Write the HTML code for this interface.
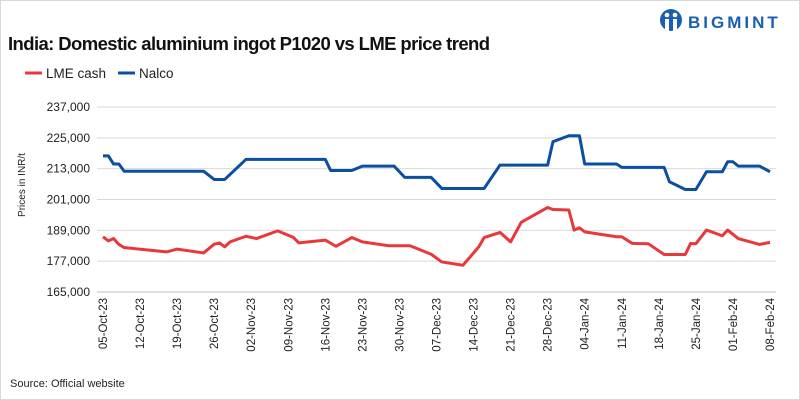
<!DOCTYPE html>
<html><head><meta charset="utf-8"><style>
body{margin:0;background:#fff}
svg{display:block;font-family:"Liberation Sans",sans-serif}
</style></head><body>
<svg width="800" height="400">
<rect x="0.5" y="0.5" width="799" height="399" fill="#fff" stroke="#d9d9d9"/>
<text x="8" y="50" font-size="18.5" font-weight="bold" fill="#111" letter-spacing="-0.6">India: Domestic aluminium ingot P1020 vs LME price trend</text>
<g>
<circle cx="671" cy="20" r="11" fill="#1a5fb4"/>
<circle cx="667" cy="15" r="2.3" fill="#fff"/><circle cx="675" cy="15" r="2.3" fill="#fff"/>
<rect x="665" y="19" width="4" height="12" fill="#fff"/><rect x="673" y="19" width="4" height="12" fill="#fff"/>
<text x="688" y="28" font-size="17" font-weight="bold" fill="#1a5fb4" letter-spacing="3">BIGMINT</text>
</g>
<g>
<line x1="25" y1="73" x2="42" y2="73" stroke="#e8383b" stroke-width="3"/>
<text x="46" y="78" font-size="13.5" fill="#222">LME cash</text>
<line x1="118" y1="73" x2="135" y2="73" stroke="#0a4fa0" stroke-width="3"/>
<text x="139" y="78" font-size="13.5" fill="#222">Nalco</text>
</g>
<text transform="translate(25,185) rotate(-90)" text-anchor="middle" font-size="10" fill="#222">Prices in INR/t</text>
<g id="grid"></g><g id="yt"></g><g id="xt"></g><g id="lines"></g>
<text x="10" y="387" font-size="11" fill="#222">Source: Official website</text>
</svg>
<script>
const yTicks=[165000,177000,189000,201000,213000,225000,237000];
const xTickLabels=["05-Oct-23","12-Oct-23","19-Oct-23","26-Oct-23","02-Nov-23","09-Nov-23","16-Nov-23","23-Nov-23","30-Nov-23","07-Dec-23","14-Dec-23","21-Dec-23","28-Dec-23","04-Jan-24","11-Jan-24","18-Jan-24","25-Jan-24","01-Feb-24","08-Feb-24"];
const nalcoDays=[0,1,2,3,4,19,21,23,27,42,43,47,49,55,57,62,64,72,75,84,85,88,90,91,97,98,106,107,110,112,114,117,118,119,120,124,126];
const nalcoVals=[218000,218000,214800,214800,212000,212000,208800,208800,216600,216600,212300,212300,214000,214000,209600,209600,205300,205300,214400,214400,223500,225800,225800,214800,214800,213500,213500,207900,204900,204900,211800,211800,215700,215700,214000,214000,211800];
const lmeDays=[0,1,2,3,4,12,14,19,21,22,23,24,27,29,33,36,37,42,44,47,49,54,58,62,64,68,71,72,75,77,79,84,85,88,89,90,91,97,98,100,103,106,110,111,112,114,117,118,120,124,126];
const lmeVals=[186500,184900,185800,183500,182300,180600,181700,180200,183600,184100,182600,184500,186700,185800,188800,186200,184100,185200,182800,186200,184500,183000,183000,179700,176700,175400,182600,186200,188200,184500,192100,197900,197100,196900,189100,190000,188400,186500,186500,183900,183800,179600,179600,183900,183800,189100,186900,189100,185800,183500,184300];
const NS="http://www.w3.org/2000/svg";
const X=d=>103+d*(667/126), Y=v=>292-(v-165000)*(185/72000);
function mk(t,a,p){const e=document.createElementNS(NS,t);for(const k in a)e.setAttribute(k,a[k]);document.getElementById(p).appendChild(e);return e;}
yTicks.forEach(v=>{
 const g=mk('line',{x1:97,x2:776,y1:Y(v),y2:Y(v),stroke:v==165000?'#bfbfbf':'#d9d9d9','stroke-width':1},'grid');
 
 
 const t=mk('text',{x:90,y:Y(v)+4,'text-anchor':'end','font-size':12,fill:'#222'},'yt');
 t.textContent=v.toLocaleString('en-US');
 
 
});
xTickLabels.forEach((l,i)=>{
 const x=X(i*7);
 const t=mk('text',{transform:`translate(${x+4},298) rotate(-90)`,'text-anchor':'end','font-size':11.5,fill:'#222'},'xt');
 t.textContent=l;
 
 
});
function line(days,vals,col,name){
 const p=mk('polyline',{points:days.map((d,i)=>X(d)+','+Y(vals[i])).join(' '),fill:'none',stroke:col,'stroke-width':3,'stroke-linejoin':'round'},'lines');
 
 
}
line(nalcoDays,nalcoVals,'#0a4fa0','nalco-line');
line(lmeDays,lmeVals,'#e8383b','lme-cash-line');
</script>
</body></html>
